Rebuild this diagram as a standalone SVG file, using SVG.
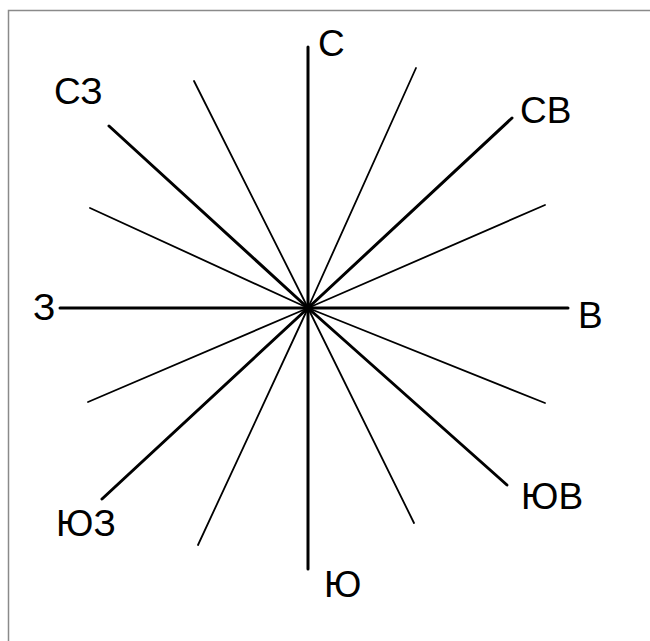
<svg xmlns="http://www.w3.org/2000/svg" width="650" height="641" viewBox="0 0 650 641">
<style>
.frame{fill:none;stroke:#8a8a8a;stroke-width:1.5}
.thick{stroke:#000;stroke-width:3;stroke-linecap:round}
.thin{stroke:#000;stroke-width:1.8;stroke-linecap:round}
.lbl{font-family:"Liberation Sans",Arial,sans-serif;font-size:37px;fill:#000}
</style>
<rect width="650" height="641" fill="#fff"/>
<rect class="frame" x="8.5" y="10.5" width="700" height="700"/>
<g id="rays-thin">
<line class="thin" x1="308" y1="308" x2="416" y2="68"/>
<line class="thin" x1="308" y1="308" x2="194" y2="81"/>
<line class="thin" x1="308" y1="308" x2="545" y2="205"/>
<line class="thin" x1="308" y1="308" x2="90" y2="208"/>
<line class="thin" x1="308" y1="308" x2="545" y2="403"/>
<line class="thin" x1="308" y1="308" x2="88" y2="402"/>
<line class="thin" x1="308" y1="308" x2="414" y2="523"/>
<line class="thin" x1="308" y1="308" x2="198" y2="545"/>
</g>
<g id="rays-thick">
<line class="thick" x1="308" y1="47" x2="308" y2="569"/>
<line class="thick" x1="60" y1="308" x2="568" y2="308"/>
<line class="thick" x1="308" y1="308" x2="109" y2="126"/>
<line class="thick" x1="308" y1="308" x2="512" y2="118"/>
<line class="thick" x1="308" y1="308" x2="507" y2="485"/>
<line class="thick" x1="308" y1="308" x2="102" y2="499"/>
</g>
<g id="labels">
<text class="lbl" x="318" y="56">С</text>
<text class="lbl" x="54" y="104">СЗ</text>
<text class="lbl" x="520" y="123">СВ</text>
<text class="lbl" x="33" y="320">З</text>
<text class="lbl" x="578" y="328">В</text>
<text class="lbl" x="521" y="509">ЮВ</text>
<text class="lbl" x="56" y="536">ЮЗ</text>
<text class="lbl" x="324" y="597">Ю</text>
</g>
</svg>
